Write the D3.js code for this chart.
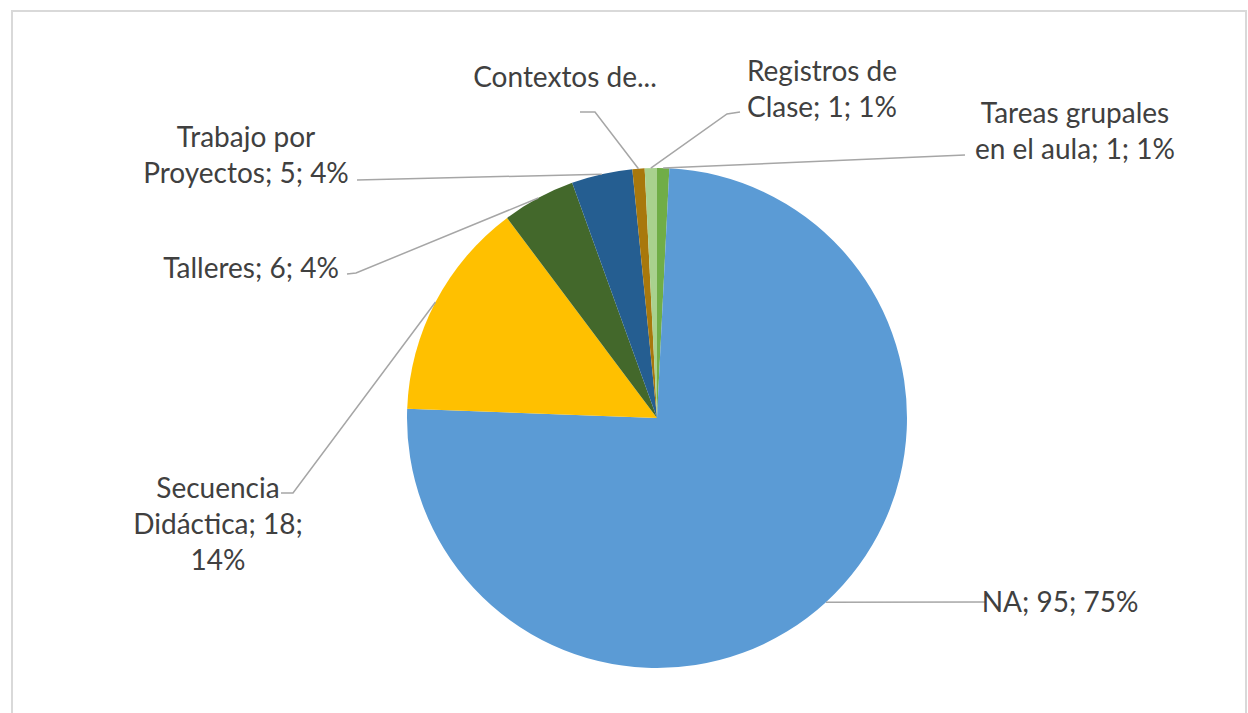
<!DOCTYPE html>
<html>
<head>
<meta charset="utf-8">
<script src="https://cdn.jsdelivr.net/npm/d3@7/dist/d3.min.js"></script>
<style>
  html, body { margin: 0; padding: 0; background: #ffffff; }
  svg { display: block; }
</style>
</head>
<body>
<svg id="chart" width="1248" height="713"></svg>
<script>
// ---- Data ----
const categories = ["Tareas grupales en el aula", "NA", "Secuencia Didáctica", "Talleres",
                    "Trabajo por Proyectos", "Contextos de...", "Registros de Clase"];
const values = [1, 95, 18, 6, 5, 1, 1];
const percentLabels = ["1%", "75%", "14%", "4%", "4%", "1%", "1%"];
const labelLines = [
  ["Tareas grupales", "en el aula; 1; 1%"],
  ["NA; 95; 75%"],
  ["Secuencia", "Didáctica; 18;", "14%"],
  ["Talleres; 6; 4%"],
  ["Trabajo por", "Proyectos; 5; 4%"],
  ["Contextos de..."],
  ["Registros de", "Clase; 1; 1%"]
];
const colors = ["#70AD47", "#5B9BD5", "#FFC000", "#43682B", "#255E91", "#A8780C", "#A9D18E"];

// ---- Layout ----
const W = 1248, H = 713;
const cx = 657, cy = 418, R = 250;
const lineH = 36;
// label centre x, first-line centre y, leader path points after slice edge
const layout = [
  { x: 1075, y: 112, pts: [[965, 155]] },
  { x: 1060, y: 601, pts: [[985, 602]] },
  { x: 218,  y: 487, pts: [[293, 493], [281, 493]] },
  { x: 251,  y: 267, pts: [[356, 273], [347, 274]] },
  { x: 246,  y: 136, pts: [[357, 180]] },
  { x: 565,  y: 76,  pts: [[595, 112], [580, 112]] },
  { x: 822,  y: 70,  pts: [[727, 114], [740, 112]] }
];

const svg = d3.select("#chart");

// chart frame
svg.append("rect")
  .attr("x", 12).attr("y", 11)
  .attr("width", 1234).attr("height", 760)
  .attr("fill", "#ffffff")
  .attr("stroke", "#d9d9d9")
  .attr("stroke-width", 2);

const data = categories.map((c, i) => ({ cat: c, value: values[i], pct: percentLabels[i], lines: labelLines[i], i }));

const pie = d3.pie().sort(null).value(d => d.value).startAngle(0).endAngle(2 * Math.PI);
const arcs = pie(data);
const arc = d3.arc().innerRadius(0).outerRadius(R);

const g = svg.append("g").attr("transform", `translate(${cx},${cy})`);
g.selectAll("path.slice")
  .data(arcs)
  .join("path")
  .attr("class", "slice")
  .attr("d", arc)
  .attr("fill", (d, i) => colors[i]);

// leader lines
const line = d3.line();
svg.append("g").selectAll("path.leader")
  .data(arcs)
  .join("path")
  .attr("class", "leader")
  .attr("fill", "none")
  .attr("stroke", "#a6a6a6")
  .attr("stroke-width", 1.5)
  .attr("d", (d, i) => {
    const mid = (d.startAngle + d.endAngle) / 2;
    const start = [cx + R * Math.sin(mid), cy - R * Math.cos(mid)];
    return line([start, ...layout[i].pts]);
  });

// labels
const lab = svg.append("g")
  .attr("font-family", "Lato, 'Open Sans', sans-serif")
  .attr("font-size", 28)
  .attr("fill", "#404040");
data.forEach((d, i) => {
  const t = lab.append("text")
    .attr("text-anchor", "middle")
    .attr("dominant-baseline", "central");
  d.lines.forEach((s, k) => {
    t.append("tspan")
      .attr("x", layout[i].x)
      .attr("y", layout[i].y + k * lineH)
      .text(s);
  });
});
</script>
</body>
</html>
